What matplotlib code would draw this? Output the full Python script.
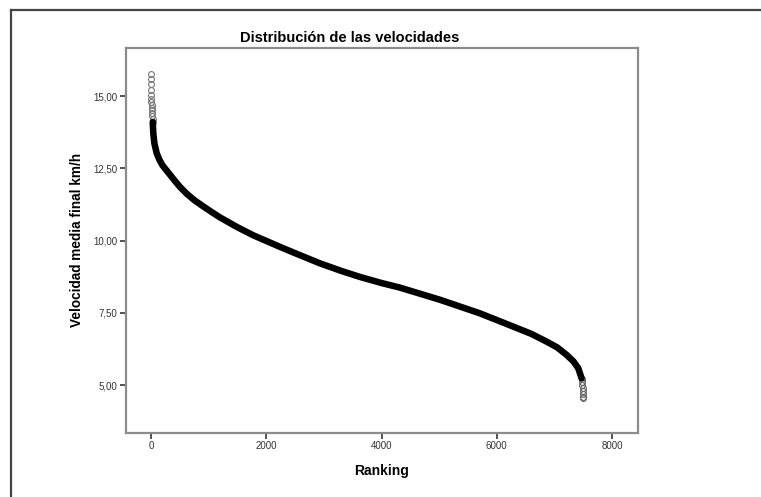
import matplotlib
matplotlib.use("Agg")
import matplotlib.pyplot as plt
from matplotlib.lines import Line2D
from matplotlib.ticker import FuncFormatter

plt.rcParams['font.family'] = ['Liberation Sans', 'DejaVu Sans']

# Main body of the ranked speeds (ranking, km/h)
rank_main = [30, 40, 60, 99, 150, 200, 272, 400, 500, 619, 750, 900, 1050,
             1197, 1500, 1776, 2239, 2528, 2933, 3300, 3627, 4000, 4321,
             5015, 5709, 6288, 6600, 6867, 7050, 7214, 7330, 7415, 7473]
speed_main = [14.1, 13.7, 13.35, 13.02, 12.78, 12.6, 12.42, 12.1, 11.86,
              11.62, 11.4, 11.19, 10.99, 10.8, 10.46, 10.18, 9.78, 9.54,
              9.21, 8.95, 8.74, 8.53, 8.37, 7.95, 7.48, 7.02, 6.77, 6.5, 6.3,
              6.04, 5.82, 5.58, 5.23]

# Sparse tails drawn as individual hollow markers
rank_top = [1, 2, 3, 4, 5, 6, 8, 10, 12, 15, 18, 22, 26, 30]
speed_top = [15.75, 15.6, 15.4, 15.2, 15.05, 14.9, 14.8, 14.7, 14.6, 14.5,
             14.4, 14.3, 14.2, 14.1]
rank_bot = [7476, 7480, 7484, 7488, 7491, 7494, 7497, 7500]
speed_bot = [5.2, 5.1, 5.0, 4.9, 4.8, 4.7, 4.6, 4.55]

x_ticks = [0, 2000, 4000, 6000, 8000]
y_ticks = [5.0, 7.5, 10.0, 12.5, 15.0]

W, H = 761, 497
fig = plt.figure(figsize=(W / 100, H / 100), dpi=100)
fig.patch.set_facecolor('white')

# outer frame (top and left lines)
fig.add_artist(Line2D([11 / W, 1], [1 - 10 / H, 1 - 10 / H], color='#444444', lw=1.6,
                      transform=fig.transFigure))
fig.add_artist(Line2D([11 / W, 11 / W], [0, 1 - 10 / H], color='#444444', lw=1.6,
                      transform=fig.transFigure))

ax = fig.add_axes([126 / W, 1 - 433 / H, (638 - 126) / W, (433 - 47.5) / H])
ax.plot(rank_main, speed_main, color='black', lw=4.7, solid_capstyle='round',
        solid_joinstyle='round', zorder=3)
ax.plot(rank_top, speed_top, linestyle='none', marker='o', markersize=4.2,
        markerfacecolor='none', markeredgecolor='#777777', markeredgewidth=0.8,
        zorder=2)
ax.plot(rank_bot, speed_bot, linestyle='none', marker='o', markersize=4.2,
        markerfacecolor='none', markeredgecolor='#666666', markeredgewidth=0.8,
        zorder=2)

ax.set_xlim(-434, 8451)
ax.set_ylim(3.34, 16.68)
ax.set_xticks(x_ticks)
ax.set_yticks(y_ticks)
ax.xaxis.set_major_formatter(FuncFormatter(lambda v, p: f"{int(v)}"))
ax.yaxis.set_major_formatter(FuncFormatter(lambda v, p: f"{v:.2f}".replace('.', ',')))
ax.tick_params(axis='both', direction='out', length=4, width=1.2, color='#333333',
               labelsize=7, labelcolor='#333333', pad=2)
ax.yaxis.set_ticks_position('left')
ax.xaxis.set_ticks_position('bottom')
for s in ax.spines.values():
    s.set_color('#8c8c8c')
    s.set_linewidth(1.6)

ax.set_xlabel('Ranking', fontsize=10, fontweight='bold', labelpad=9)
ax.set_ylabel('Velocidad media final km/h', fontsize=9.8, fontweight='bold', labelpad=7)
fig.text(350 / W, 1 - 38 / H, 'Distribución de las velocidades', ha='center',
         va='center', fontsize=10.5, fontweight='bold')

fig.savefig('out.png', dpi=100, facecolor='white')
